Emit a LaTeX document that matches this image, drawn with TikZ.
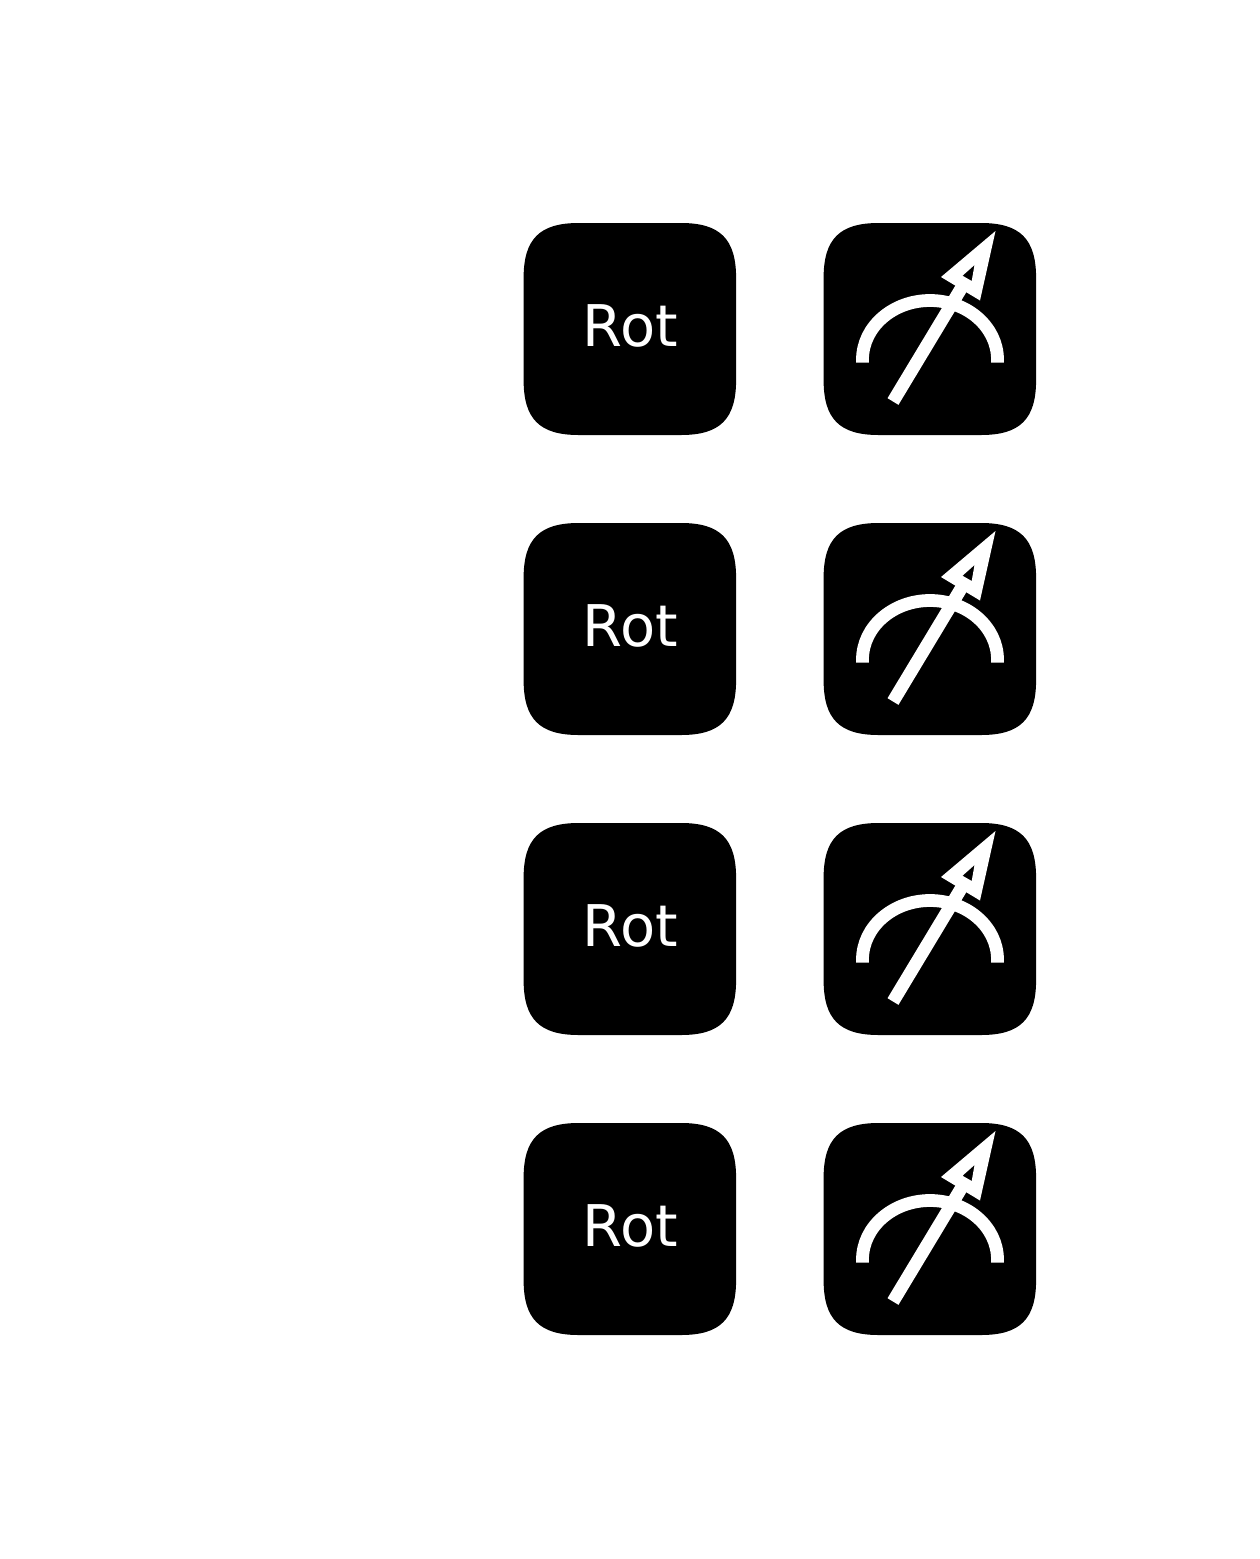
\documentclass[tikz,border=0pt]{standalone}
\usepackage{fontspec}
\setmainfont{DejaVu Sans}
\tikzset{
  tile/.style={fill=black,draw=none},
  glyph/.style={draw=white,line width=12.8pt,line cap=butt},
  headfill/.style={fill=white,draw=none,even odd rule},
  rotlabel/.style={text=white,font=\fontsize{57.5}{57.5}\selectfont,inner sep=0pt}
}
\newcommand{\squircle}{(55,0) -- (157.5,0) .. controls (196.5,0) and (212.5,16) .. (212.5,55) -- (212.5,157) .. controls (212.5,196) and (196.5,212) .. (157.5,212) -- (55,212) .. controls (16,212) and (0,196) .. (0,157) -- (0,55) .. controls (0,16) and (16,0) .. (55,0) -- cycle}
\begin{document}
\begin{tikzpicture}[x=1pt,y=-1pt]
\useasboundingbox (0,0) rectangle (1259,1559);
\foreach \n/\yy in {a/223,b/523,c/823,d/1123}{
  \begin{scope}[shift={(523.6,\yy)}]
    \fill[tile] \squircle;
    \node[rotlabel,anchor=center] (rot\n) at (106.7,103) {Rot};
  \end{scope}
  \begin{scope}[shift={(823.6,\yy)}]
    \fill[tile] \squircle;
    \coordinate (s\n) at (69.4,178.5);
    \coordinate (e\n) at (141.4,59);
    \draw[glyph] (38.9,139.5) -- (38.9,136.5) .. controls (38.9,104) and (69.1,77.5) .. (106.4,77.5) .. controls (143.7,77.5) and (173.9,104) .. (173.9,136.5) -- (173.9,139.5);
    \draw[glyph] (s\n) -- (e\n);
    \fill[headfill] (117.4,54) -- (171.9,8) -- (156.4,77.5) -- cycle (150.9,42) -- (138.9,52.7) -- (148.1,58) -- cycle;
  \end{scope}
}
\end{tikzpicture}
\end{document}
